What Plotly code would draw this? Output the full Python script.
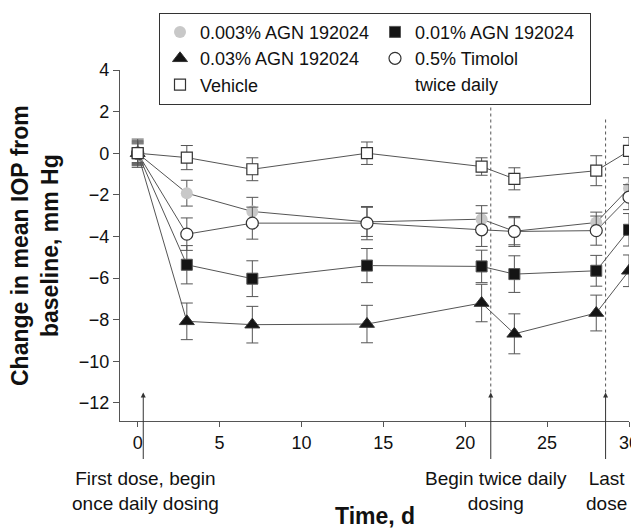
import plotly.graph_objects as go

days = [0, 3, 7, 14, 21, 23, 28, 30]

agn_0003 = [0, -1.92, -2.80, -3.30, -3.17, -3.75, -3.33, -1.68]
agn_0003_err = [0.55, 0.62, 0.68, 0.70, 0.65, 0.65, 0.50, 0.50]

agn_001 = [0, -5.36, -6.03, -5.40, -5.44, -5.81, -5.65, -3.68]
agn_001_err = [0.45, 0.92, 0.86, 0.82, 0.78, 0.88, 0.74, 0.78]

agn_003 = [0, -8.08, -8.24, -8.21, -7.20, -8.68, -7.68, -5.65]
agn_003_err = [0.50, 0.88, 0.88, 0.90, 0.90, 0.96, 0.86, 0.76]

timolol = [0, -3.89, -3.36, -3.36, -3.68, -3.76, -3.72, -2.11]
timolol_err = [0.60, 0.78, 0.77, 0.80, 0.80, 0.72, 0.70, 0.60]

vehicle = [0, -0.21, -0.77, 0.0, -0.64, -1.23, -0.84, 0.11]
vehicle_err = [0.68, 0.58, 0.55, 0.54, 0.42, 0.53, 0.72, 0.65]

event_days = [0.34, 21.56, 28.57]
event_labels = ["First dose, begin<br>once daily dosing", "Begin twice daily<br>dosing", "Last<br>dose"]
event_label_days = [0.45, 21.86, 28.62]
dotted_tops = [None, 2.3, 1.75]

FONT = "Liberation Sans, Arial, sans-serif"
LINE = "#555555"

# the page body has an 8px margin; plot area is 509x351 px
PW, PH = 509, 351
L, T = 112, 62


def px_x(x):  # reference pixel -> paper x
    return (x - 8 - L) / PW


def px_y(y):  # reference pixel -> paper y
    return 1 - (y - 8 - T) / PH


series = [
    ("0.003% AGN 192024", agn_0003, agn_0003_err,
     dict(symbol="circle", size=12, color="#c8c8c8", line=dict(width=0))),
    ("0.01% AGN 192024", agn_001, agn_001_err,
     dict(symbol="square", size=11, color="#141414", line=dict(width=1, color="#555"))),
    ("0.03% AGN 192024", agn_003, agn_003_err,
     dict(symbol="triangle-up", size=13, color="#141414", line=dict(width=1, color="#333"))),
    ("0.5% Timolol", timolol, timolol_err,
     dict(symbol="circle", size=12, color="white", line=dict(width=1.2, color="#333"))),
    ("Vehicle", vehicle, vehicle_err,
     dict(symbol="square", size=11, color="white", line=dict(width=1.2, color="#333"))),
]

fig = go.Figure()

# connecting lines first
for name, ys, errs, mk in series:
    fig.add_trace(go.Scatter(x=days, y=ys, mode="lines", showlegend=False,
                             line=dict(color=LINE, width=1), hoverinfo="skip"))

# markers with error bars
for name, ys, errs, mk in series:
    fig.add_trace(go.Scatter(
        x=days, y=ys, mode="markers", name=name, marker=mk,
        error_y=dict(type="data", array=errs, visible=True, color=LINE,
                     thickness=1, width=6),
    ))

# dotted vertical lines
for d, top in zip(event_days, dotted_tops):
    if top is not None:
        fig.add_shape(type="line", x0=d, x1=d, y0=-11.5, y1=top, xref="x", yref="y",
                      line=dict(color=LINE, width=1, dash="dot"))

# arrows
for d in event_days:
    fig.add_annotation(x=d, y=-11.5, xref="x", yref="y", text="", showarrow=True,
                       ax=0, ay=68, axref="pixel", ayref="pixel",
                       arrowhead=2, arrowsize=1, arrowwidth=1, arrowcolor="#333")

for d, lab in zip(event_label_days, event_labels):
    fig.add_annotation(x=d, y=px_y(491), xref="x", yref="paper", text=lab, showarrow=False,
                       xanchor="center", yanchor="middle", align="center",
                       font=dict(family=FONT, size=19, color="#111"))

fig.add_annotation(x=0.5, y=px_y(516), xref="paper", yref="paper", text="<b>Time, d</b>",
                   showarrow=False, xanchor="center", yanchor="middle",
                   font=dict(family=FONT, size=23, color="#111"))

fig.add_annotation(x=px_x(34.5), y=0.5, xref="paper", yref="paper",
                   text="<b>Change in mean IOP from<br>baseline, mm Hg</b>", textangle=-90,
                   showarrow=False, xanchor="center", yanchor="middle",
                   font=dict(family=FONT, size=23, color="#111"))

fig.add_annotation(x=px_x(413), y=px_y(85), xref="paper", yref="paper",
                   text="twice daily", showarrow=False, xanchor="left", yanchor="middle",
                   font=dict(family=FONT, size=18, color="#111"))

fig.update_layout(
    width=631, height=521,
    margin=dict(l=L, r=10, t=T, b=108, autoexpand=False),
    paper_bgcolor="white", plot_bgcolor="white",
    font=dict(family=FONT, size=18, color="#111"),
    showlegend=True,
    legend=dict(orientation="h", x=px_x(159), y=px_y(12.7),
                xanchor="left", yanchor="top", entrywidth=170, entrywidthmode="pixels",
                bordercolor="#333", borderwidth=1, bgcolor="white",
                font=dict(family=FONT, size=18, color="#111"), traceorder="normal"),
    xaxis=dict(range=[-1.08, 30], tickvals=[0, 5, 10, 15, 20, 25, 30], showgrid=False,
               zeroline=False, showline=True, linecolor="#555", linewidth=1.3,
               ticks="outside", ticklen=5, tickcolor="#555", tickwidth=1.3,
               ticklabeloverflow="allow", automargin=False,
               tickfont=dict(family=FONT, size=18, color="#111")),
    yaxis=dict(range=[-12.87, 4], tickvals=[4, 2, 0, -2, -4, -6, -8, -10, -12], showgrid=False,
               zeroline=False, showline=True, linecolor="#555", linewidth=1.3,
               ticks="outside", ticklen=6, tickcolor="#555", tickwidth=1.3,
               ticklabeloverflow="allow", automargin=False,
               tickfont=dict(family=FONT, size=18, color="#111")),
)

fig.write_html("out.html")
